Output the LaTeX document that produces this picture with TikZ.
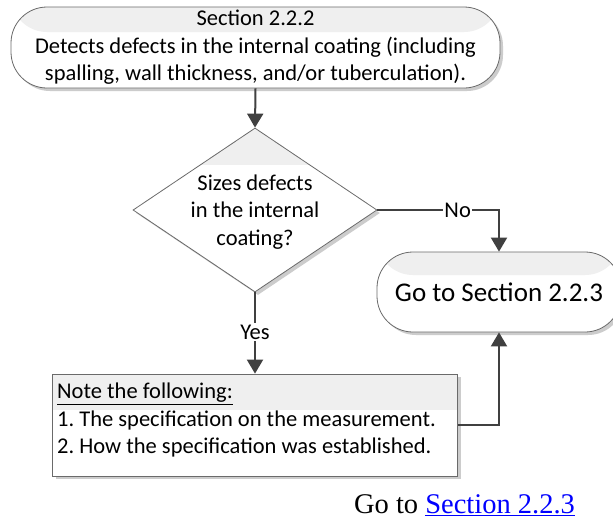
\documentclass[tikz,border=0pt]{standalone}
\usepackage{fontspec}
\setmainfont{Carlito}
\newfontfamily\timesf{Liberation Serif}
\usetikzlibrary{shapes.geometric,arrows.meta,shadows}
\definecolor{lineg}{HTML}{404040}
\definecolor{edgeg}{HTML}{6A6A6A}
\definecolor{bandg}{HTML}{EFEFEF}
\definecolor{shadg}{HTML}{CCCCCC}
\definecolor{linkb}{HTML}{0000FF}
\begin{document}
\frenchspacing
\begin{tikzpicture}[x=1pt,y=-1pt,
  shp/.style={draw=edgeg, line width=0.8pt, fill=white, inner sep=0pt,
    drop shadow={shadow xshift=3pt, shadow yshift=-3pt, fill=shadg, opacity=1}},
  band/.style={path picture={\fill[bandg] (path picture bounding box.north west) rectangle ([yshift=-#1]path picture bounding box.north east);}},
  term/.style={shp, rectangle, rounded corners=36pt},
  txt/.style={font=\fontsize{22.5}{27.4}\selectfont, align=center, inner sep=0pt},
  arr/.style={draw=lineg, line width=2pt, -{Triangle[width=16pt,length=14pt]}},
  lbl/.style={font=\fontsize{22.5}{27.4}\selectfont, fill=white, inner sep=1.5pt}
]
\useasboundingbox (0,0) rectangle (613,523);
\fill[white] (0,0) rectangle (613,523);

\node[term, band=25pt, minimum width=489pt, minimum height=81pt, txt] (top) at (255.5,47.5)
  {Section 2.2.2\\Detects defects in the internal coating (including\\spalling, wall thickness, and/or tuberculation).};

\node[shp, band=37pt, diamond, minimum width=244pt, minimum height=164pt] (dia) at (255,210) {};
\node[txt] (diat) at (255,212) {Sizes defects\\in the internal\\coating?};

\node[term, band=23pt, minimum width=244pt, minimum height=80pt,
  font=\fontsize{27}{32}\selectfont] (go) at (499,292) {Go to Section 2.2.3};

\node[shp, band=36pt, rectangle, minimum width=405pt, minimum height=102pt] (note) at (255,425) {};
\node[txt, align=left, anchor=west] (notet) at (57,420)
  {\underline{Note the following:}\\1. The specification on the measurement.\\2. How the specification was established.};

\draw[arr] (top.south) -- (dia.north);
\draw[arr] (dia.east) -- node[lbl, pos=0.66] {No} (dia.east -| go.north) -- (go.north);
\draw[arr] (dia.south) -- node[lbl, pos=0.49] {Yes} (note.north);
\draw[arr] (note.east) -| (go.south);

\node[font=\timesf\fontsize{28.5}{34}\selectfont, anchor=base, inner sep=0pt] (link) at (464.5,513)
  {Go to \textcolor{linkb}{\underline{Section 2.2.3}}};
\end{tikzpicture}
\end{document}
